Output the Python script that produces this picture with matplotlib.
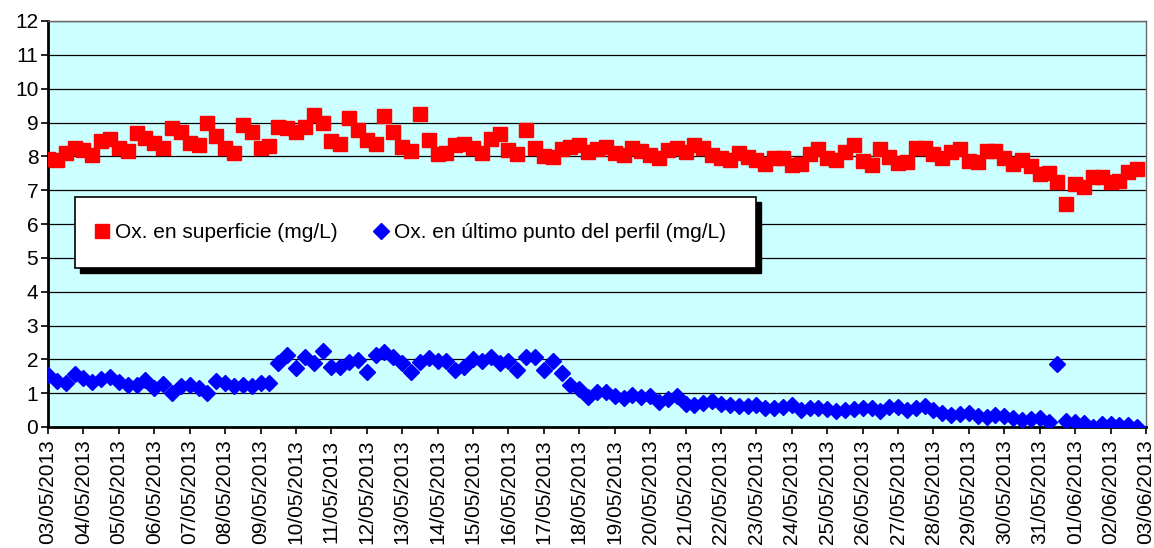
import numpy as np
import pandas as pd
import matplotlib
matplotlib.use("Agg")
import matplotlib.pyplot as plt
from matplotlib.patches import Rectangle

plt.rcParams["font.family"] = ["Liberation Sans", "DejaVu Sans"]

# 4 readings per day, 03/05/2013 -> 02/06/2013
ox_superficie = [
    7.93, 7.90, 8.10, 8.24, 8.19, 8.04, 8.44, 8.50, 8.24, 8.17, 8.68, 8.53, 8.39, 8.24, 8.83, 8.73,
    8.39, 8.34, 9.00, 8.60, 8.24, 8.10, 8.93, 8.73, 8.24, 8.31, 8.88, 8.83, 8.71, 8.88, 9.23, 9.00,
    8.44, 8.37, 9.13, 8.78, 8.47, 8.37, 9.20, 8.73, 8.29, 8.16, 9.24, 8.49, 8.07, 8.11, 8.34, 8.37,
    8.24, 8.09, 8.50, 8.66, 8.19, 8.07, 8.78, 8.24, 8.02, 7.99, 8.21, 8.29, 8.34, 8.14, 8.21, 8.27,
    8.11, 8.05, 8.26, 8.16, 8.03, 7.94, 8.20, 8.26, 8.13, 8.33, 8.26, 8.03, 7.94, 7.89, 8.10, 7.99,
    7.89, 7.77, 7.94, 7.94, 7.74, 7.77, 8.08, 8.23, 7.94, 7.89, 8.13, 8.33, 7.87, 7.74, 8.23, 7.99,
    7.81, 7.83, 8.25, 8.25, 8.06, 7.95, 8.13, 8.22, 7.86, 7.82, 8.17, 8.17, 7.96, 7.77, 7.90, 7.71,
    7.47, 7.52, 7.23, 6.58, 7.18, 7.09, 7.38, 7.38, 7.25, 7.28, 7.54, 7.64,
]
ox_fondo = [
    1.54, 1.37, 1.31, 1.56, 1.44, 1.34, 1.41, 1.47, 1.34, 1.23, 1.25, 1.39, 1.15, 1.27, 1.00, 1.22,
    1.25, 1.15, 1.00, 1.37, 1.31, 1.20, 1.25, 1.22, 1.31, 1.29, 1.88, 2.13, 1.74, 2.08, 1.90, 2.25,
    1.78, 1.78, 1.93, 1.98, 1.64, 2.13, 2.22, 2.06, 1.90, 1.62, 1.93, 2.03, 1.96, 1.96, 1.67, 1.76,
    2.00, 1.96, 2.08, 1.88, 1.96, 1.67, 2.08, 2.06, 1.69, 1.96, 1.61, 1.25, 1.12, 0.88, 1.02, 1.02,
    0.92, 0.86, 0.96, 0.88, 0.93, 0.74, 0.83, 0.93, 0.68, 0.66, 0.70, 0.76, 0.68, 0.66, 0.63, 0.63,
    0.66, 0.56, 0.56, 0.60, 0.66, 0.50, 0.56, 0.56, 0.53, 0.48, 0.50, 0.53, 0.56, 0.56, 0.48, 0.58,
    0.59, 0.49, 0.56, 0.61, 0.49, 0.42, 0.34, 0.39, 0.42, 0.32, 0.29, 0.36, 0.32, 0.27, 0.20, 0.25,
    0.26, 0.15, 1.85, 0.17, 0.15, 0.12, 0.00, 0.10, 0.08, 0.05, 0.05, 0.00,
]
READS_PER_DAY = 4
dias = pd.date_range("2013-05-03", "2013-06-03", freq="D").strftime("%d/%m/%Y").tolist()

W, H = 1154, 548
fig = plt.figure(figsize=(W / 100, H / 100), dpi=100)
ax = fig.add_axes([48 / W, 1 - 427 / H, 1098 / W, 406 / H])
ax.set_facecolor("#CCFFFF")

x = np.arange(len(ox_superficie))
ax.plot(x, ox_superficie, "s", color="red", mec="red", ms=9.5, ls="none",
        label="Ox. en superficie (mg/L)", zorder=3)
ax.plot(x, ox_fondo, "D", color="blue", mec="blue", ms=8.3, ls="none",
        label="Ox. en último punto del perfil (mg/L)", zorder=3)

ax.set_ylim(0, 12)
ax.set_yticks(range(0, 13))
ax.set_xlim(0, (len(dias) - 1) * READS_PER_DAY)
ax.set_xticks(np.arange(len(dias)) * READS_PER_DAY)
ax.set_xticklabels(dias, rotation=90, va="top", ha="center")
ax.tick_params(axis="both", labelsize=15, length=5, width=1.2, color="black", pad=2)
ax.tick_params(axis="x", labelsize=15, pad=4)
ax.yaxis.grid(True, color="black", lw=0.9)
ax.set_axisbelow(True)

for side in ["left", "bottom"]:
    ax.spines[side].set_linewidth(2)
    ax.spines[side].set_color("black")
for side in ["top", "right"]:
    ax.spines[side].set_linewidth(1)
    ax.spines[side].set_color("#666666")

# legend box with hard black shadow
bx, by, bw, bh = 0.0246, 0.392, 0.62, 0.175
ax.add_patch(Rectangle((bx + 0.0046, by - 0.0123), bw, bh, transform=ax.transAxes,
                       facecolor="black", edgecolor="black", zorder=4))
ax.add_patch(Rectangle((bx, by), bw, bh, transform=ax.transAxes,
                       facecolor="white", edgecolor="black", lw=1.2, zorder=5))
leg = ax.legend(loc="center", bbox_to_anchor=(bx + bw / 2 - 0.004, by + bh / 2), ncol=2,
                frameon=False, fontsize=15, handlelength=0.6, handletextpad=0.3,
                columnspacing=1.8, markerscale=1.0)
leg.set_zorder(6)

fig.savefig("out.png", dpi=100)
